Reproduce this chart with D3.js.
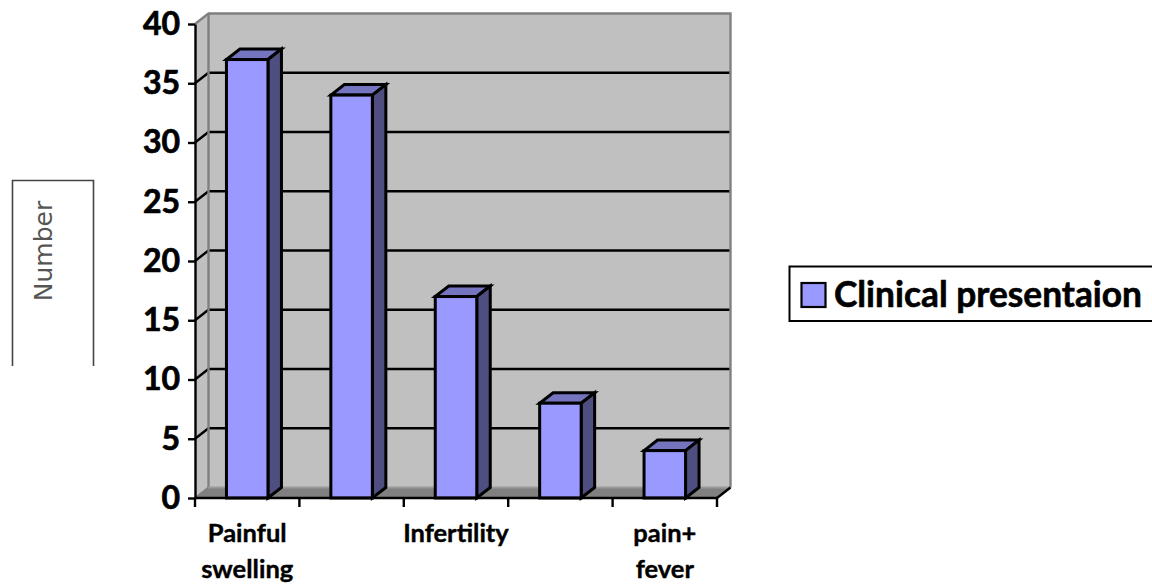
<!DOCTYPE html>
<html><head><meta charset="utf-8">
<script src="https://cdn.jsdelivr.net/npm/d3@7"></script>
<style>html,body{margin:0;padding:0;background:#fff}svg{display:block}</style>
</head><body><svg id="c" width="1152" height="587"></svg>
<script>
const categories = ["Painful swelling", "Swelling", "Infertility", "Pain", "pain+ fever"];
const categoryLabels = [["Painful","swelling"], [], ["Infertility"], [], ["pain+","fever"]];
const values = [37, 34, 17, 8, 4];
const yTicks = [0, 5, 10, 15, 20, 25, 30, 35, 40];
const seriesName = "Clinical presentaion";
const yTitle = "Number";

const svg = d3.select("#c");
const font = "Lato, 'Open Sans', sans-serif";
const dx = 13.5, dy = -10.5;
const x = d3.scaleBand().domain(categories).range([195, 717]).paddingInner(0).paddingOuter(0);
const y = d3.scaleLinear().domain([0, 40]).range([498, 24]);
const barW = 41.5;
const pts = a => a.map(p => p.join(",")).join(" ");
const [x0, x1] = x.range(), yB = y(0), yT = y(40);

// walls
svg.append("polygon").attr("points", pts([[x0,yB],[x0+dx,yB+dy],[x1+dx,yB+dy],[x1,yB]])).attr("fill","#808080");
svg.append("polygon").attr("points", pts([[x0,yB],[x0,yT],[x0+dx,yT+dy],[x0+dx,yB+dy]])).attr("fill","#c0c0c0");
svg.append("rect").attr("x",x0+dx).attr("y",yT+dy).attr("width",x1-x0).attr("height",yB-yT).attr("fill","#c0c0c0");

// gridlines
const grid = yTicks.filter(t => t > 0 && t < 40);
svg.append("g").selectAll("path").data(grid).join("path")
  .attr("d", t => `M${x0},${y(t)}L${x0+dx},${y(t)+dy}L${x1+dx},${y(t)+dy}`)
  .attr("fill","none").attr("stroke","#000").attr("stroke-width",2.4);

// wall edges
svg.append("path").attr("d",`M${x0},${yT}L${x0+dx},${yT+dy}L${x1+dx},${yT+dy}L${x1+dx},${yB+dy}`)
  .attr("fill","none").attr("stroke","#808080").attr("stroke-width",2.4);
svg.append("path").attr("d",`M${x0+dx},${yT+dy}V${yB+dy}`).attr("stroke","#808080").attr("stroke-width",2.4);
svg.append("path").attr("d",`M${x0},${yB}L${x0+dx},${yB+dy}`).attr("stroke","#808080").attr("stroke-width",2);
svg.append("path").attr("d",`M${x0+dx},${yB+dy}H${x1+dx}`).attr("stroke","#9a9a9a").attr("stroke-width",2);
svg.append("path").attr("d",`M${x1},${yB}L${x1+dx},${yB+dy}`).attr("stroke","#000").attr("stroke-width",2.4);

// bars
const bars = svg.append("g").selectAll("g").data(values).join("g")
  .attr("stroke","#000").attr("stroke-width",3).attr("stroke-linejoin","miter");
const bl = (d,i) => x(categories[i]) + (x.bandwidth()-barW)/2;
bars.append("polygon").attr("fill","#7474bf").attr("points",(d,i)=>{const l=bl(d,i),t=y(d);
  return pts([[l,t],[l+dx,t+dy],[l+barW+dx,t+dy],[l+barW,t]]);});
bars.append("polygon").attr("fill","#4e4e80").attr("points",(d,i)=>{const l=bl(d,i),t=y(d);
  return pts([[l+barW,t],[l+barW+dx,t+dy],[l+barW+dx,yB+dy],[l+barW,yB]]);});
bars.append("rect").attr("fill","#9999ff").attr("x",(d,i)=>bl(d,i)).attr("y",d=>y(d))
  .attr("width",barW).attr("height",d=>yB-y(d));

// y axis
const yAxis = svg.append("g").attr("transform",`translate(${x0},0)`)
  .call(d3.axisLeft(y).tickValues(yTicks).tickSize(7).tickPadding(8).tickSizeOuter(0));
yAxis.select(".domain").attr("stroke","#000").attr("stroke-width",2.4);
yAxis.selectAll("line").attr("stroke","#000").attr("stroke-width",2.4);
yAxis.selectAll("text").attr("font-family",font).attr("font-weight",700).attr("font-size",32)
  .attr("fill","#000").attr("stroke","#000").attr("stroke-width",0.7);

// x axis
const step = x.step();
const xPos = d3.range(categories.length + 1).map(i => x0 + i*step);
svg.append("path").attr("d",`M${x0},${yB}H${x1}`).attr("stroke","#000").attr("stroke-width",2.4);
svg.append("g").selectAll("line").data(xPos).join("line")
  .attr("x1",d=>d).attr("x2",d=>d).attr("y1",yB).attr("y2",yB+9)
  .attr("stroke","#000").attr("stroke-width",2.4);
const labs = svg.append("g").attr("font-family",font).attr("font-weight",700).attr("font-size",25.5)
  .attr("fill","#000").attr("stroke","#000").attr("stroke-width",0.4).attr("text-anchor","middle");
categoryLabels.forEach((ls,i)=>{
  ls.forEach((s,j)=>labs.append("text")
    .attr("x",x(categories[i])+x.bandwidth()/2).attr("y",542+j*36).text(s));
});

// legend
svg.append("path").attr("d","M1154,266.5H789.5V321H1154").attr("fill","#fff").attr("stroke","#000").attr("stroke-width",2);
svg.append("rect").attr("x",801.5).attr("y",283).attr("width",24).attr("height",24)
  .attr("fill","#9999ff").attr("stroke","#000").attr("stroke-width",2.2);
svg.append("text").attr("x",834).attr("y",307).attr("font-family",font).attr("font-weight",700)
  .attr("font-size",35.3).attr("fill","#000").attr("stroke","#000").attr("stroke-width",0.6).text(seriesName);

// y title box
svg.append("path").attr("d","M12.5,366V180.5H93.5V366").attr("fill","#fff").attr("stroke","#444").attr("stroke-width",1.6);
svg.append("text").attr("transform","translate(52,251) rotate(-90)").attr("text-anchor","middle")
  .attr("font-family","'DejaVu Sans', sans-serif").attr("font-size",25).attr("fill","#555").text(yTitle);
</script></body></html>
